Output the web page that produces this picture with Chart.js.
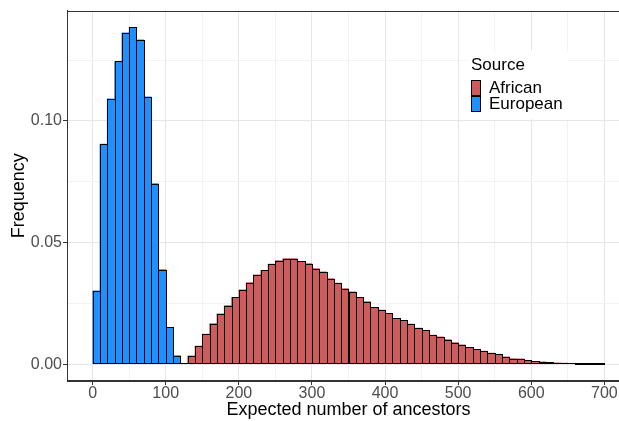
<!DOCTYPE html>
<html>
<head>
<meta charset="utf-8">
<script src="https://cdn.jsdelivr.net/npm/chart.js@4"></script>
<style>
  html, body { margin: 0; padding: 0; overflow: hidden; background: #fff; }
  #wrap { width: 630px; height: 421px; }
</style>
</head>
<body>
<div id="wrap"><canvas id="histChart" width="630" height="421"></canvas></div>
<script>
// histogram bins, width 10
const binWidth = 10;
const europeanStart = 0;
const africanStart = 130;

const europeanFreq = [0.0302, 0.0905, 0.1090, 0.1244, 0.1362, 0.1384, 0.1333, 0.1099,
  0.0742, 0.0389, 0.0152, 0.0035];

const africanFreq = [0.0034, 0.0075, 0.0124, 0.0167, 0.0207, 0.0241, 0.0275, 0.0306,
  0.0335, 0.0367, 0.0386, 0.0411, 0.0426, 0.0434, 0.0434, 0.0423, 0.0413, 0.0393,
  0.0380, 0.0352, 0.0333, 0.0311, 0.0297, 0.0275, 0.0257, 0.0234, 0.0222, 0.0209,
  0.0188, 0.0180, 0.0165, 0.0148, 0.0139, 0.0120, 0.0112, 0.0101, 0.0089, 0.0080,
  0.0069, 0.0061, 0.0054, 0.0046, 0.0040, 0.0030, 0.0023, 0.0022, 0.0016, 0.0012,
  0.0010, 0.0008, 0.0006, 0.0005, 0.0003, 0.0002, 0.0002, 0.0001, 0.0001];

const xMajorTicks = [0, 100, 200, 300, 400, 500, 600, 700];
const xMinorTicks = [50, 150, 250, 350, 450, 550, 650];
const yMajorTicks = [0, 0.05, 0.10];
const yTickLabels = ['0.00', '0.05', '0.10'];
const yMinorTicks = [0.025, 0.075, 0.125];

const FONT = '"Liberation Sans", Arial, sans-serif';
const TICK_GREY = '#4d4d4d';

function toBins(start, freqs) {
    return freqs.map((f, i) => ({ x: start + i * binWidth + binWidth / 2, y: f }));
}

function isMajor(list, v) {
    return list.some(m => Math.abs(m - v) < 1e-9);
}

// panel outline (the right side falls outside the window)
const panelBorder = {
    id: 'panelBorder',
    afterDraw(chart) {
        const { left, top, right, bottom } = chart.chartArea;
        const ctx = chart.ctx;
        ctx.save();
        ctx.strokeStyle = '#333333';
        ctx.lineWidth = 1;
        ctx.strokeRect(Math.round(left) + 0.5, Math.round(top) + 0.5,
            Math.round(right - left) - 1, Math.round(bottom - top) - 1);
        ctx.restore();
    }
};

// crisp black outline around every bar + base line under empty bins
const barOutline = {
    id: 'barOutline',
    afterDatasetsDraw(chart) {
        const ctx = chart.ctx;
        const { x, y } = chart.scales;
        const snap = v => Math.round(v) + 0.5;
        ctx.save();
        ctx.strokeStyle = '#000';
        ctx.lineWidth = 1;
        chart.data.datasets.forEach((ds, di) => {
            chart.getDatasetMeta(di).data.forEach(bar => {
                const l = snap(bar.x - bar.width / 2);
                const r = snap(bar.x + bar.width / 2);
                const t = snap(bar.y);
                const b = snap(bar.base) - 1;
                ctx.strokeRect(l, Math.min(t, b), r - l, Math.abs(b - t));
            });
        });
        const py = snap(y.getPixelForValue(0)) - 1;
        ctx.beginPath();
        ctx.moveTo(snap(x.getPixelForValue(europeanStart)), py);
        ctx.lineTo(snap(x.getPixelForValue(africanStart + africanFreq.length * binWidth)), py);
        ctx.stroke();
        ctx.restore();
    }
};

// ggplot style legend inside the panel
const sourceLegend = {
    id: 'sourceLegend',
    afterDraw(chart) {
        const ctx = chart.ctx;
        ctx.save();
        ctx.fillStyle = '#fff';
        ctx.fillRect(467, 51, 101, 68);
        ctx.fillStyle = '#000';
        ctx.font = '17px ' + FONT;
        ctx.textBaseline = 'alphabetic';
        ctx.fillText('Source', 471, 70);
        chart.data.datasets.forEach((ds, i) => {
            const ky = 80 + i * 16;
            ctx.fillStyle = ds.backgroundColor;
            ctx.fillRect(471, ky, 10, 16);
            ctx.strokeStyle = '#000';
            ctx.lineWidth = 1;
            ctx.strokeRect(471.5, ky + 0.5, 9, 15);
            ctx.fillStyle = '#000';
            ctx.textBaseline = 'middle';
            ctx.fillText(ds.label, 489, ky + 8.5);
        });
        ctx.restore();
    }
};

Chart.defaults.font.family = FONT;

new Chart(document.getElementById('histChart'), {
    type: 'bar',
    data: {
        datasets: [
            { label: 'African', data: toBins(africanStart, africanFreq), backgroundColor: '#CD5C5C' },
            { label: 'European', data: toBins(europeanStart, europeanFreq), backgroundColor: '#1E90FF' }
        ]
    },
    options: {
        responsive: false,
        animation: false,
        layout: { padding: { top: 9, left: 0, right: 0, bottom: 0 } },
        datasets: {
            bar: {
                grouped: false,
                barPercentage: 1,
                categoryPercentage: 1,
                borderWidth: 0
            }
        },
        plugins: {
            legend: { display: false },
            tooltip: { enabled: false }
        },
        scales: {
            x: {
                type: 'linear',
                min: -35,
                max: 735,
                offset: false,
                afterBuildTicks: s => {
                    s.ticks = [...xMajorTicks, ...xMinorTicks].sort((a, b) => a - b).map(v => ({ value: v }));
                },
                afterFit: s => { s.height = 40; },
                grid: {
                    offset: false,
                    color: c => isMajor(xMajorTicks, c.tick.value) ? '#e6e6e6' : '#f2f2f2',
                    tickColor: c => isMajor(xMajorTicks, c.tick.value) ? '#333333' : 'rgba(0,0,0,0)',
                    tickLength: 4
                },
                border: { display: true, color: '#333333', width: 1 },
                ticks: {
                    autoSkip: false,
                    maxRotation: 0,
                    padding: 1,
                    color: TICK_GREY,
                    font: { size: 16, lineHeight: 1 },
                    callback: v => isMajor(xMajorTicks, v) ? String(v) : ''
                },
                title: {
                    display: true,
                    text: 'Expected number of ancestors',
                    color: '#000',
                    font: { size: 18 },
                    padding: { top: 0, bottom: 0 }
                }
            },
            y: {
                min: -0.0069,
                max: 0.1453,
                afterBuildTicks: s => {
                    s.ticks = [...yMajorTicks, ...yMinorTicks].sort((a, b) => a - b).map(v => ({ value: v }));
                },
                afterFit: s => { s.width = 67; },
                grid: {
                    color: c => isMajor(yMajorTicks, c.tick.value) ? '#e6e6e6' : '#f2f2f2',
                    tickColor: c => isMajor(yMajorTicks, c.tick.value) ? '#333333' : 'rgba(0,0,0,0)',
                    tickLength: 4
                },
                border: { display: true, color: '#333333', width: 1 },
                ticks: {
                    autoSkip: false,
                    padding: 1,
                    color: TICK_GREY,
                    font: { size: 16 },
                    callback: v => {
                        const i = yMajorTicks.findIndex(m => Math.abs(m - v) < 1e-9);
                        return i >= 0 ? yTickLabels[i] : '';
                    }
                },
                title: {
                    display: true,
                    text: 'Frequency',
                    color: '#000',
                    font: { size: 18 },
                    padding: { top: 8, bottom: 0 }
                }
            }
        }
    },
    plugins: [barOutline, panelBorder, sourceLegend]
});
</script>
</body>
</html>
